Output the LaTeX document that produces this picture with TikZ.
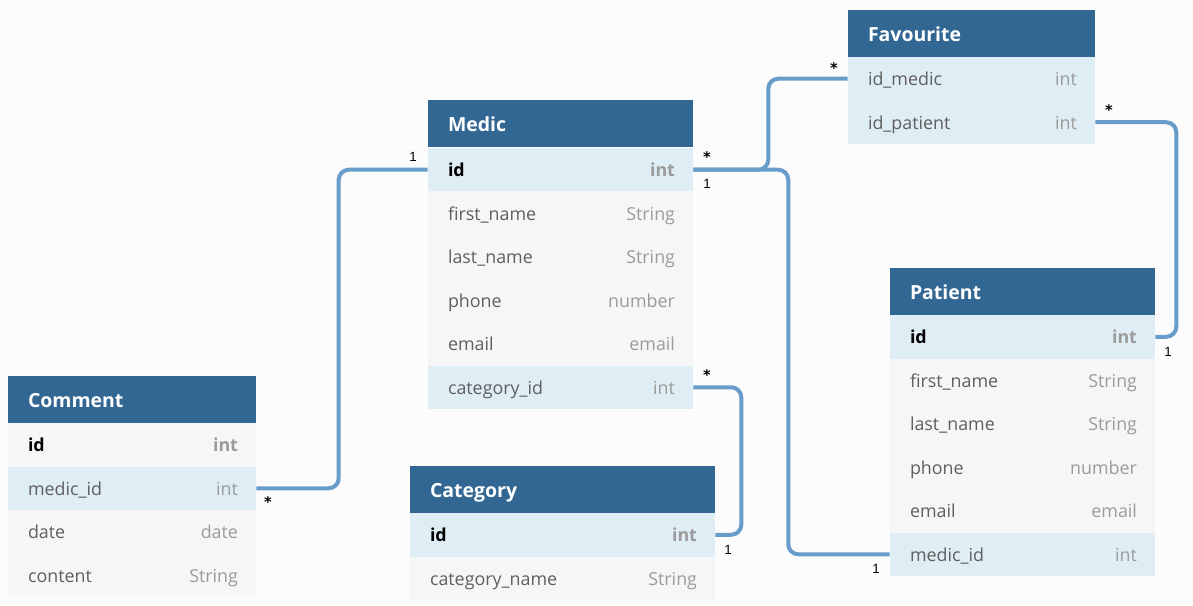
\documentclass[tikz,border=0pt]{standalone}
\usepackage{fontspec}
\setmainfont{Open Sans}
\newfontfamily\lblfont{Liberation Sans}
\newfontfamily\astfont{DejaVu Sans}
\definecolor{bg}{RGB}{252,252,252}
\definecolor{hdrblue}{RGB}{50,103,148}
\definecolor{connblue}{RGB}{104,156,203}
\definecolor{hlrow}{RGB}{223,237,245}
\definecolor{nrrow}{RGB}{246,246,246}
\definecolor{fieldgray}{RGB}{95,95,95}
\definecolor{typegray}{RGB}{155,155,155}
\tikzset{
  hdrbox/.style={fill=hdrblue, draw=none, inner sep=0pt, minimum height=35.6pt},
  hdrtxt/.style={anchor=base west, text=white, font=\bfseries\fontsize{14.6}{17}\selectfont, inner sep=0pt},
  rowbox/.style={draw=none, inner sep=0pt, minimum height=32.625pt},
  hl/.style={fill=hlrow},
  nr/.style={fill=nrrow},
  fieldtxt/.style={anchor=base west, text=fieldgray, font=\fontsize{13.4}{16}\selectfont, inner sep=0pt},
  typetxt/.style={anchor=base east, text=typegray, font=\fontsize{13.4}{16}\selectfont, inner sep=0pt},
  keyfield/.style={fieldtxt, text=black, font=\bfseries\fontsize{13.4}{16}\selectfont},
  keytype/.style={typetxt, font=\bfseries\fontsize{13.4}{16}\selectfont},
  conn/.style={draw=connblue, line width=3pt, rounded corners=7.5pt},
  mult/.style={font=\lblfont\fontsize{10}{12}\selectfont, text=black, inner sep=0pt},
  many/.style={font=\astfont\bfseries\fontsize{11}{12}\selectfont, text=black, inner sep=0pt}
}
\newcommand\ent[5]{%
  \node[hdrbox, minimum width=#4*0.75pt] (#1) at (#2+#4/2, #3+23.75) {};
  \node[hdrtxt] at ([xshift=15pt,yshift=-6pt]#1.west) {#5};
}
\newcommand\erow[7]{%
  \node[rowbox, #5, minimum width=#4*0.75pt] (#1) at (#2+#4/2, #3+21.75) {};
  \node[fieldtxt] at ([xshift=15pt,yshift=-5.4pt]#1.west) {#6};
  \node[typetxt] at ([xshift=-13.5pt,yshift=-5.4pt]#1.east) {#7};
}
\newcommand\krow[7]{%
  \node[rowbox, #5, minimum width=#4*0.75pt] (#1) at (#2+#4/2, #3+21.75) {};
  \node[keyfield] at ([xshift=15pt,yshift=-5.4pt]#1.west) {#6};
  \node[keytype] at ([xshift=-13.5pt,yshift=-5.4pt]#1.east) {#7};
}
\begin{document}
\begin{tikzpicture}[x=0.75pt,y=-0.75pt]
\fill[bg] (0,0) rectangle (1193,606);
\useasboundingbox (0,0) rectangle (1193,606);

% Favourite
\ent{fav}{848}{10}{247}{Favourite}
\erow{favidm}{848}{57}{247}{hl}{id\_medic}{int}
\erow{favidp}{848}{100.5}{247}{hl}{id\_patient}{int}

% Medic
\ent{medic}{428}{100}{265}{Medic}
\krow{medid}{428}{148}{265}{hl}{id}{int}
\erow{medfn}{428}{191.5}{265}{nr}{first\_name}{String}
\erow{medln}{428}{235}{265}{nr}{last\_name}{String}
\erow{medph}{428}{278.5}{265}{nr}{phone}{number}
\erow{medem}{428}{322}{265}{nr}{email}{email}
\erow{medcat}{428}{365.5}{265}{hl}{category\_id}{int}

% Patient
\ent{pat}{890}{268}{265}{Patient}
\krow{patid}{890}{315}{265}{hl}{id}{int}
\erow{patfn}{890}{358.5}{265}{nr}{first\_name}{String}
\erow{patln}{890}{402}{265}{nr}{last\_name}{String}
\erow{patph}{890}{445.5}{265}{nr}{phone}{number}
\erow{patem}{890}{489}{265}{nr}{email}{email}
\erow{patmid}{890}{532.5}{265}{hl}{medic\_id}{int}

% Comment
\ent{com}{8}{376}{248}{Comment}
\krow{comid}{8}{423}{248}{nr}{id}{int}
\erow{commid}{8}{466.5}{248}{hl}{medic\_id}{int}
\erow{comdate}{8}{510}{248}{nr}{date}{date}
\erow{comcont}{8}{553.5}{248}{nr}{content}{String}

% Category
\ent{cat}{410}{466}{305}{Category}
\krow{catid}{410}{513}{305}{hl}{id}{int}
\erow{catname}{410}{556.5}{305}{nr}{category\_name}{String}

% connectors
\draw[conn] (medid.east) -- ++(75,0) |- (favidm.west);
\draw[conn] (medid.east) -- ++(95,0) |- (patmid.west);
\draw[conn] (favidp.east) -- ++(81,0) |- (patid.east);
\draw[conn] (medcat.east) -- ++(48,0) |- (catid.east);
\draw[conn] (medid.west) -- ++(-89,0) |- (commid.east);

% multiplicities
\node[many] (m1) at (707,157.5) {*};
\node[many] (m2) at (834,68.5) {*};
\node[mult] (m3) at (707,184) {1};
\node[mult] (m4) at (876,569) {1};
\node[many] (m5) at (1109,110.5) {*};
\node[mult] (m6) at (1168,352) {1};
\node[many] (m7) at (707,375.5) {*};
\node[mult] (m8) at (728,550) {1};
\node[mult] (m9) at (413,157) {1};
\node[many] (m10) at (268,502.5) {*};
\end{tikzpicture}
\end{document}
